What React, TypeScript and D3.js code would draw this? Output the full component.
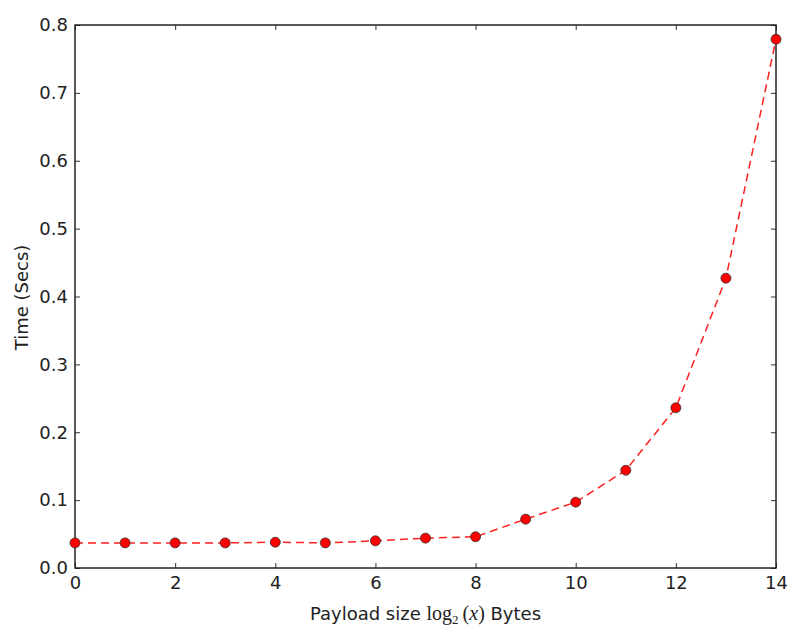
import React, { useRef, useEffect } from 'react';
import * as d3 from 'd3';

// payload size exponent (log2 bytes)
const payloadExp = [0, 1, 2, 3, 4, 5, 6, 7, 8, 9, 10, 11, 12, 13, 14];
// measured time in seconds
const timeSecs = [0.037, 0.037, 0.037, 0.037, 0.038, 0.037, 0.040, 0.044, 0.046, 0.072, 0.097, 0.144, 0.236, 0.427, 0.779];
const xTicks = [0, 2, 4, 6, 8, 10, 12, 14];
const yTicks = [0.0, 0.1, 0.2, 0.3, 0.4, 0.5, 0.6, 0.7, 0.8];

const App = () => {
  const svgRef = useRef<SVGSVGElement | null>(null);

  useEffect(() => {
    if (!svgRef.current) return;
    const svg = d3.select(svgRef.current);
    svg.selectAll('*').remove();

    const margin = { top: 25, right: 11, bottom: 58, left: 75 };
    const width = 787 - margin.left - margin.right;
    const height = 626 - margin.top - margin.bottom;
    const font = "'DejaVu Sans', sans-serif";
    const mathFont = "'Liberation Serif', 'DejaVu Serif', serif";
    const fs = 18;

    const g = svg.append('g')
      .attr('transform', `translate(${margin.left},${margin.top})`);

    const x = d3.scaleLinear().domain([0, 14]).range([0, width]);
    const y = d3.scaleLinear().domain([0, 0.8]).range([height, 0]);

    // bottom axis, ticks point inward
    const xAxis = g.append('g')
      .attr('transform', `translate(0,${height})`)
      .call(d3.axisBottom(x).tickValues(xTicks).tickSizeInner(-5).tickSizeOuter(0).tickPadding(8).tickFormat(d3.format('d')));
    xAxis.select('.domain').remove();
    xAxis.selectAll('text').attr('font-size', fs).attr('font-family', font).attr('fill', '#222');

    // top ticks
    const xTop = g.append('g')
      .call(d3.axisTop(x).tickValues(xTicks).tickSizeInner(-5).tickSizeOuter(0).tickFormat(() => ''));
    xTop.select('.domain').remove();

    // left axis
    const yAxis = g.append('g')
      .call(d3.axisLeft(y).tickValues(yTicks).tickSizeInner(-5).tickSizeOuter(0).tickPadding(7).tickFormat(d3.format('.1f')));
    yAxis.select('.domain').remove();
    yAxis.selectAll('text').attr('font-size', fs).attr('font-family', font).attr('fill', '#222');

    // right ticks
    const yRight = g.append('g')
      .attr('transform', `translate(${width},0)`)
      .call(d3.axisRight(y).tickValues(yTicks).tickSizeInner(-5).tickSizeOuter(0).tickFormat(() => ''));
    yRight.select('.domain').remove();

    g.selectAll('.tick line').attr('stroke', '#333').attr('stroke-width', 1);

    // frame
    g.append('rect')
      .attr('x', 0).attr('y', 0)
      .attr('width', width).attr('height', height)
      .attr('fill', 'none')
      .attr('stroke', '#222')
      .attr('stroke-width', 1.5);

    const pts = payloadExp.map((p, i) => ({ p, t: timeSecs[i] }));

    const line = d3.line<{ p: number; t: number }>()
      .x(d => x(d.p))
      .y(d => y(d.t));

    g.append('path')
      .datum(pts)
      .attr('fill', 'none')
      .attr('stroke', '#ff2020')
      .attr('stroke-width', 1.5)
      .attr('stroke-dasharray', '8,5')
      .attr('d', line);

    g.selectAll('circle.pt')
      .data(pts)
      .enter()
      .append('circle')
      .attr('class', 'pt')
      .attr('cx', d => x(d.p))
      .attr('cy', d => y(d.t))
      .attr('r', 5)
      .attr('fill', '#ff0000')
      .attr('stroke', '#333')
      .attr('stroke-width', 0.8);

    // axis labels
    svg.append('text')
      .attr('transform', `translate(28,${margin.top + height / 2 + 1}) rotate(-90)`)
      .attr('text-anchor', 'middle')
      .attr('font-family', font)
      .attr('font-size', fs)
      .attr('fill', '#222')
      .text('Time (Secs)');

    const xl = svg.append('text')
      .attr('x', margin.left + width / 2)
      .attr('y', 620)
      .attr('text-anchor', 'middle')
      .attr('font-family', font)
      .attr('font-size', fs)
      .attr('fill', '#222');
    xl.append('tspan').text('Payload size ');
    xl.append('tspan').attr('font-family', mathFont).attr('font-size', 20).text('log');
    xl.append('tspan').attr('font-family', mathFont).attr('font-size', 13).attr('dy', 4).text('2');
    xl.append('tspan').attr('font-family', mathFont).attr('font-size', 20).attr('dy', -4).text('\u2009(');
    xl.append('tspan').attr('font-family', mathFont).attr('font-size', 20).attr('font-style', 'italic').text('x');
    xl.append('tspan').attr('font-family', mathFont).attr('font-size', 20).text(')');
    xl.append('tspan').text(' Bytes');
  }, []);

  return (
    <svg
      ref={svgRef}
      width={787}
      height={626}
      style={{ display: 'block', position: 'absolute', left: 0, top: 0, background: '#fff' }}
    />
  );
};

export default App;
